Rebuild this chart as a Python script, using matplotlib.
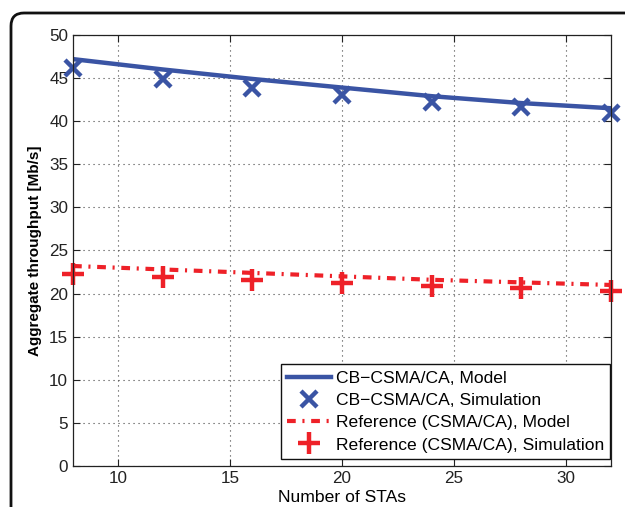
import numpy as np
import matplotlib.pyplot as plt
from matplotlib.patches import FancyBboxPatch

plt.rcParams['font.family'] = ['Liberation Sans', 'DejaVu Sans']

# number of stations
n_sta = [8, 12, 16, 20, 24, 28, 32]

# CB-CSMA/CA
cb_model = [47.2, 46.0, 44.9, 43.9, 42.9, 42.1, 41.5]
cb_sim = [46.2, 44.9, 43.9, 43.0, 42.2, 41.7, 41.0]

# reference CSMA/CA
ref_model = [23.2, 22.8, 22.4, 22.0, 21.6, 21.3, 21.0]
ref_sim = [22.3, 21.9, 21.6, 21.2, 20.9, 20.6, 20.3]

blue = '#3a54a4'
red = '#ee2128'

fig = plt.figure(figsize=(6.25, 5.07), dpi=100)
ax = fig.add_axes([0.1168, 0.0809, 0.8608, 0.8501])

ax.plot(n_sta, cb_model, '-', color=blue, lw=3.2, label='CB\u2212CSMA/CA, Model')
ax.plot(n_sta, cb_sim, 'x', color=blue, ms=12, mew=3.2, ls='none',
        clip_on=False, label='CB\u2212CSMA/CA, Simulation')
ax.plot(n_sta, ref_model, '-.', color=red, lw=3.0,
        dashes=(2.1, 1.6, 0.5, 1.6), label='Reference (CSMA/CA), Model')
ax.plot(n_sta, ref_sim, '+', color=red, ms=16, mew=3.2, ls='none',
        clip_on=False, label='Reference (CSMA/CA), Simulation')

ax.set_xlim(8, 32)
ax.set_ylim(0, 50)
ax.set_xticks([10, 15, 20, 25, 30])
ax.set_yticks(np.arange(0, 51, 5))
ax.tick_params(direction='in', top=True, right=True, labelsize=12.3,
               length=5, width=0.8, colors='#222222')
ax.grid(True, ls=(0, (1, 3.5)), color='#444444', lw=0.8)
for s in ax.spines.values():
    s.set_linewidth(0.9)
    s.set_color('#222222')

ax.set_xlabel('Number of STAs', fontsize=12.6, labelpad=3)
ax.set_ylabel('Aggregate throughput [Mb/s]', fontsize=11, fontweight='bold',
              labelpad=5)

leg = ax.legend(loc='lower right', bbox_to_anchor=(0.9985, 0.017),
                fontsize=12.6, handlelength=2.55, handletextpad=0.25,
                labelspacing=0.4, borderpad=0.35, borderaxespad=0,
                fancybox=False, framealpha=1)
leg.get_frame().set_edgecolor('#111111')
leg.get_frame().set_linewidth(1.0)

# rounded outer frame, cropped at right and bottom
frame = FancyBboxPatch((0.11, -0.5), 7.0, 4.94 + 0.5,
                       boxstyle='round,pad=0,rounding_size=0.13',
                       transform=fig.dpi_scale_trans, fill=False,
                       ec='#111111', lw=2.0, clip_on=False)
fig.patches.append(frame)

fig.savefig('out.png', dpi=100)
